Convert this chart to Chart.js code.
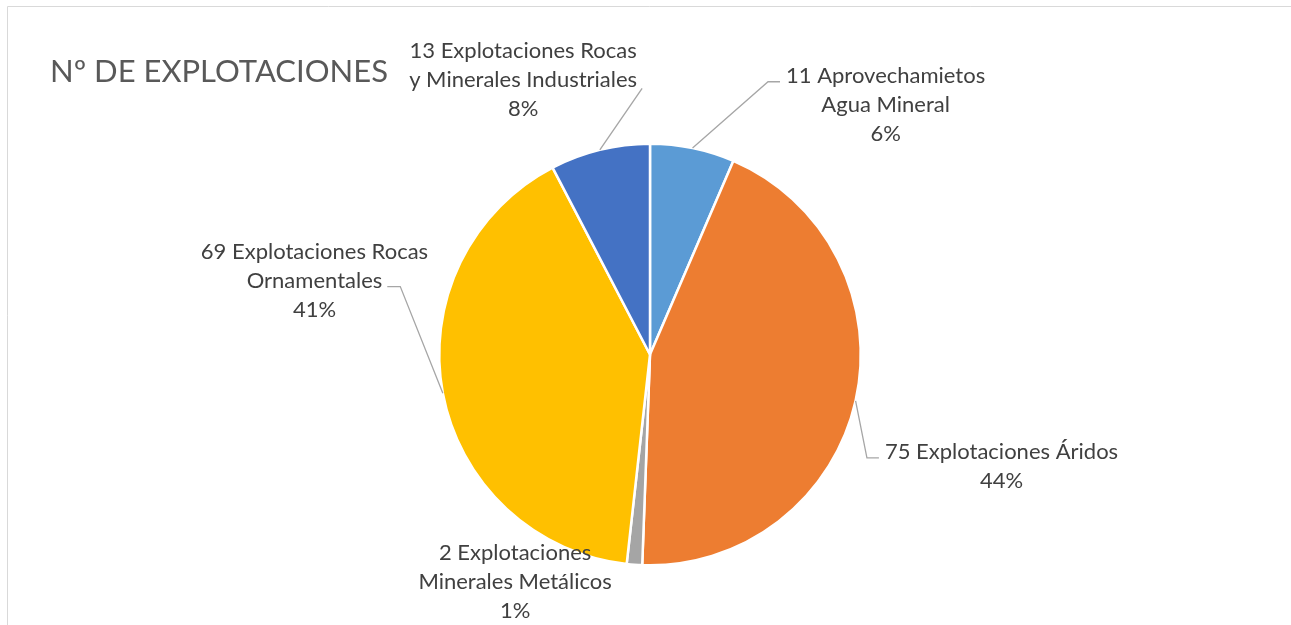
<!DOCTYPE html>
<html>
<head>
<meta charset="utf-8">
<script src="https://cdn.jsdelivr.net/npm/chart.js@4.4.0/dist/chart.umd.min.js"></script>
<style>
  html, body { margin: 0; padding: 0; background: #fff; }
  #wrap { width: 1291px; height: 625px; position: relative; }
</style>
</head>
<body>
<div id="wrap"><canvas id="pieChart" width="1291" height="625"></canvas></div>
<script>
// chart data
const chartTitle = 'Nº DE EXPLOTACIONES';
const categories = [
  ['Aprovechamietos', 'Agua Mineral'],
  ['Explotaciones Áridos'],
  ['Explotaciones', 'Minerales Metálicos'],
  ['Explotaciones Rocas', 'Ornamentales'],
  ['Explotaciones Rocas', 'y Minerales Industriales']
];
const counts = [11, 75, 2, 69, 13];
const colors = ['#5B9BD5', '#ED7D31', '#A5A5A5', '#FFC000', '#4472C4'];

// where each data label sits, in units of the pie radius from its centre
const labelLayout = [
  { fx: 1.118, fy: -1.185, side: 'left', line: 0, elbow: 12 },
  { fx: 1.668, fy: 0.531, side: 'left', line: 0, elbow: 12 },
  { fx: -0.64, fy: 1.08, side: null },
  { fx: -1.592, fy: -0.351, side: 'right', line: 1, elbow: 13 },
  { fx: -0.602, fy: -1.301, side: 'right', line: 1, elbow: 0 }
];

const FONT = 'Lato, "Open Sans", sans-serif';
const total = counts.reduce((a, b) => a + b, 0);

// label lines: value + category, then percent
const labelLines = (i) => {
  const lines = categories[i].slice();
  lines[0] = counts[i] + ' ' + lines[0];
  lines.push(Math.round(counts[i] / total * 100) + '%');
  return lines;
};

// frame, title, data labels and leader lines
const decorations = {
  id: 'decorations',
  beforeDraw(chart) {
    const ctx = chart.ctx;
    ctx.save();
    ctx.strokeStyle = '#d9d9d9';
    ctx.lineWidth = 1;
    ctx.beginPath();
    ctx.moveTo(7.5, 625);
    ctx.lineTo(7.5, 6.5);
    ctx.lineTo(1291, 6.5);
    ctx.stroke();

    ctx.fillStyle = '#595959';
    ctx.font = '31px ' + FONT;
    ctx.textBaseline = 'alphabetic';
    ctx.textAlign = 'left';
    ctx.fillText(chartTitle, 50, 82);
    ctx.restore();
  },
  afterDatasetsDraw(chart) {
    const ctx = chart.ctx;
    const arcs = chart.getDatasetMeta(0).data;
    const lineH = 29;
    ctx.save();
    ctx.font = '22px ' + FONT;
    ctx.textAlign = 'center';
    ctx.textBaseline = 'middle';
    arcs.forEach((arc, i) => {
      const cx = arc.x, cy = arc.y, r = arc.outerRadius;
      const lay = labelLayout[i];
      const lx = cx + lay.fx * r, ly = cy + lay.fy * r;
      const lines = labelLines(i);
      const top = ly - (lines.length - 1) / 2 * lineH;

      if (lay.side) {
        const mid = (arc.startAngle + arc.endAngle) / 2;
        const sx = cx + Math.cos(mid) * r, sy = cy + Math.sin(mid) * r;
        const w = ctx.measureText(lines[lay.line]).width;
        const ay = top + lay.line * lineH + 6;
        let ax, ex;
        if (lay.side === 'left') { ax = lx - w / 2 - 6; ex = ax - lay.elbow; }
        else { ax = lx + w / 2 + 5; ex = ax + lay.elbow; }
        ctx.strokeStyle = '#A6A6A6';
        ctx.lineWidth = 1.3;
        ctx.beginPath();
        ctx.moveTo(sx, sy);
        ctx.lineTo(ex, ay + (lay.elbow ? 0 : 2));
        ctx.lineTo(ax, ay + (lay.elbow ? 0 : 2));
        ctx.stroke();
      }

      ctx.fillStyle = '#404040';
      lines.forEach((t, k) => ctx.fillText(t, lx, top + k * lineH));
    });
    ctx.restore();
  }
};

new Chart(document.getElementById('pieChart'), {
  type: 'pie',
  data: {
    labels: categories.map(c => c.join(' ')),
    datasets: [{
      data: counts,
      backgroundColor: colors,
      borderColor: '#ffffff',
      borderWidth: 2.5
    }]
  },
  options: {
    responsive: false,
    animation: false,
    layout: { padding: { top: 142, bottom: 58, left: 438, right: 429 } },
    plugins: {
      legend: { display: false },
      tooltip: { enabled: false }
    }
  },
  plugins: [decorations]
});
</script>
</body>
</html>
